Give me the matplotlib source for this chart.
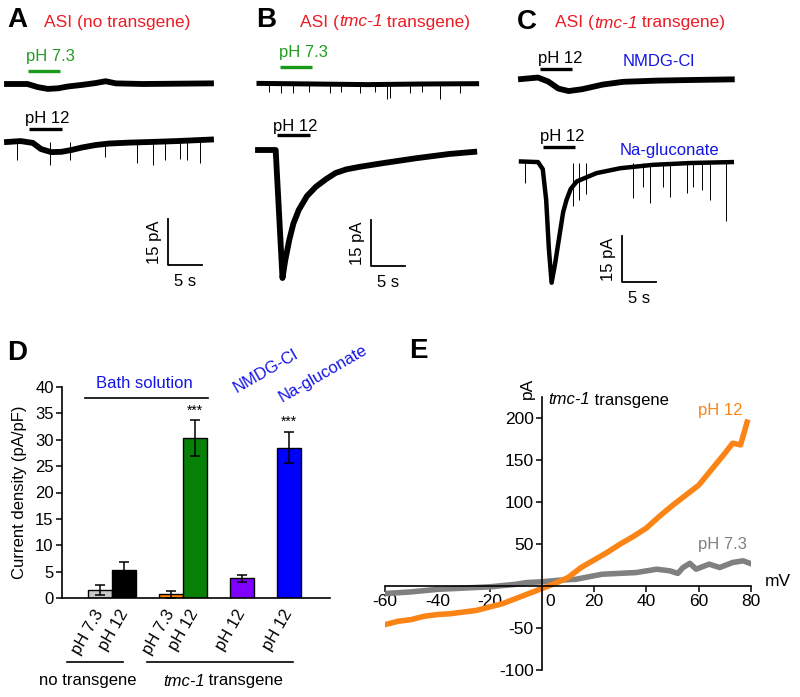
import matplotlib
matplotlib.use("Agg")
import matplotlib.pyplot as plt
from matplotlib.offsetbox import TextArea, HPacker, AnnotationBbox

plt.rcParams["font.family"] = ["Liberation Sans", "DejaVu Sans"]
plt.rcParams["axes.unicode_minus"] = False

W, H = 800, 697
PX_PER_S = 6.8     # trace time scale (5 s = 34 px)
PX_PER_PA = 3.07   # trace current scale (15 pA = 46 px)

RED = "#ec1c24"
GREEN_TXT = "#1f9e1f"
BLUE_TXT = "#1414e6"
ORANGE = "#fb8416"
GREY = "#808080"

# ---------------- traces (time s, current pA rel. baseline) ----------------
A73_T = [0, 3, 4.5, 6, 7.5, 9, 11, 13, 14.5, 16, 20, 25, 30]
A73_I = [0, 0, -1.0, -1.6, -1.4, -0.8, -0.3, 0.3, 0.9, 0.2, 0, 0.1, 0.2]

A12_T = [0, 2, 3.8, 5, 6.5, 8, 9.5, 11, 13, 15, 18, 21, 25, 28, 30]
A12_I = [0, 0.3, -0.3, -2.3, -3.3, -3.2, -2.6, -1.8, -1.0, -0.5, -0.2, 0, 0.3, 0.6, 0.8]
A12_SPIKE_T = [1.5, 6.3, 9.3, 14.4, 19.1, 21.5, 23.2, 25.4, 26.5, 28.4]
A12_SPIKE_I = [-6, -7.5, -6, -5, -7, -7.5, -6, -5.5, -6, -7]

B73_T = [0, 8, 16, 24, 32]
B73_I = [0.2, 0, -0.2, 0, 0.1]
B73_SPIKE_T = [1.5, 3.2, 5.0, 7.4, 10.4, 12.0, 14.9, 17.0, 18.8, 19.3, 22.2, 24.0, 26.6, 29.5]
B73_SPIKE_I = [-2.5, -2.8, -3, -2.5, -3, -2.5, -3, -2.7, -5, -4.5, -3, -2.5, -5, -2.8]

B12_T = [0, 2.6, 3.6, 4.0, 4.6, 5.2, 6.0, 7.2, 8.5, 10, 11.4, 13, 14.9, 18.3, 23.2, 28.1, 31.8]
B12_I = [0, 0, -41.7, -36, -29.3, -24, -19.5, -15, -12, -9.5, -7.5, -6.3, -5.5, -4.3, -2.7, -1.3, -0.6]

C1_T = [0, 2.5, 4, 5.5, 7, 9, 12, 15, 20, 25, 31]
C1_I = [0.3, 0.8, -0.5, -2.8, -3.6, -3.0, -1.5, -0.6, -0.2, 0, 0.2]

C2_T = [0, 2.5, 3.2, 3.7, 4.1, 4.5, 5.0, 5.7, 6.2, 6.7, 7.3, 8.2, 11.1, 14.6, 19.4, 25, 31]
C2_I = [0.5, 0.3, -2, -12, -28, -39, -33, -23, -16, -12, -8.5, -6, -3.3, -1.7, -0.6, 0, 0.3]
C2_SPIKE_T = [0.6, 7.7, 8.5, 9.5, 16.5, 18.0, 19.0, 20.9, 21.9, 24.4, 25.3, 26.6, 27.8, 30.2]
C2_SPIKE_I = [-6.6, -14, -12, -10, -11.5, -7.7, -13, -7.7, -11, -9.9, -7.7, -8.8, -12, -19]

# stimulus on/off times (s)
STIM_A73 = [3.1, 7.8]
STIM_A12 = [3.2, 8.1]
STIM_B73 = [3.1, 7.8]
STIM_B12 = [2.8, 7.6]
STIM_C1 = [2.8, 7.5]
STIM_C2 = [3.2, 7.9]

SCALE_PA = 15
SCALE_S = 5

# ---------------- panel D ----------------
D_TICKS = ["pH 7.3", "pH 12", "pH 7.3", "pH 12", "pH 12", "pH 12"]
D_MEAN = [1.5, 5.4, 0.7, 30.3, 3.7, 28.5]
D_ERR = [1.0, 1.4, 0.65, 3.35, 0.65, 3.0]
D_COLORS = ["#c8c8c8", "black", "#ff8000", "#078007", "#8000ff", "#0000ff"]
D_SIG = ["", "", "", "***", "", "***"]
D_X = [0, 1, 2.94, 3.94, 5.9, 7.85]

# ---------------- panel E (I-V) ----------------
IV12_MV = [-60, -55, -50, -45, -40, -35, -30, -25, -20, -15, -10, -5, 0, 5, 10, 15,
           20, 25, 30, 35, 40, 45, 50, 55, 60, 65, 70, 73, 76, 77.5, 78.5]
IV12_PA = [-46, -42, -40, -36, -34, -33, -31, -29, -25, -21, -15, -9, -3, 3, 10, 22,
           31, 40, 50, 59, 69, 83, 96, 108, 120, 139, 158, 170, 168, 184, 195]
IV73_MV = [-60, -50, -40, -30, -20, -10, -6, 0, 7, 13, 23, 36, 44, 49, 52, 54,
           56.6, 59, 64, 68, 73, 77, 79.6]
IV73_PA = [-9, -7, -4, -2.5, -1, 2, 4, 5, 7, 8, 14, 16, 20, 18, 15, 22,
           27, 20, 26, 22, 28, 30, 27]


def px_axes(fig, left, top, right, bottom):
    return fig.add_axes([left / W, 1 - bottom / H, (right - left) / W, (bottom - top) / H])


def trace_axes(fig, x0, y0, box):
    """Axes in s / pA whose origin sits at pixel (x0, y0)."""
    left, top, right, bottom = box
    ax = px_axes(fig, left, top, right, bottom)
    ax.set_xlim((left - x0) / PX_PER_S, (right - x0) / PX_PER_S)
    ax.set_ylim((y0 - bottom) / PX_PER_PA, (y0 - top) / PX_PER_PA)
    ax.set_axis_off()
    ax.patch.set_alpha(0)
    return ax


def draw_trace(ax, t, i, spike_t=None, spike_i=None, lw=4.2):
    ax.plot(t, i, color="black", lw=lw, solid_joinstyle="round")
    if spike_t:
        ax.vlines(spike_t, 0, spike_i, color="black", lw=0.7)


def stim_bar(ax, on_off, y_px, y0, color):
    level = (y0 - y_px) / PX_PER_PA
    ax.plot(on_off, [level, level], color=color, lw=2.4, solid_capstyle="butt")


def scale_bar(fig, cx, cy, box):
    ax = trace_axes(fig, cx, cy, box)
    ax.plot([0, 0, SCALE_S], [SCALE_PA, 0, 0], color="black", lw=1.3)
    ax.text(-0.9, SCALE_PA / 2, f"{SCALE_PA} pA", rotation=90, ha="right", va="center", fontsize=12)
    ax.text(SCALE_S / 2, -3, f"{SCALE_S} s", ha="center", va="top", fontsize=12)


def rich_text(ax, x, y, parts, fontsize=12, color="black", align=(0, 0.5)):
    boxes = [TextArea(s, textprops=dict(color=color, fontsize=fontsize, style=st))
             for s, st in parts]
    pack = HPacker(children=boxes, align="baseline", pad=0, sep=0)
    ab = AnnotationBbox(pack, (x, y), xycoords="data", box_alignment=align,
                        frameon=False, pad=0)
    ax.add_artist(ab)


def tmc_parts(before, after):
    return [(before, "normal"), ("tmc-1", "italic"), (after, "normal")]


def main():
    fig = plt.figure(figsize=(W / 100, H / 100), dpi=100)

    # ---- panel A ----
    box_a = (0, 30, 240, 300)
    ax = trace_axes(fig, 7, 84, box_a)
    draw_trace(ax, A73_T, A73_I)
    stim_bar(ax, STIM_A73, 71, 84, "#1a9a1a")
    ax = trace_axes(fig, 7, 142, box_a)
    draw_trace(ax, A12_T, A12_I, A12_SPIKE_T, A12_SPIKE_I)
    stim_bar(ax, STIM_A12, 129, 142, "black")
    scale_bar(fig, 168, 265, box_a)

    # ---- panel B ----
    box_b = (245, 30, 510, 300)
    ax = trace_axes(fig, 259, 84, box_b)
    draw_trace(ax, B73_T, B73_I, B73_SPIKE_T, B73_SPIKE_I, lw=3.6)
    stim_bar(ax, STIM_B73, 67, 84, "#1a9a1a")
    ax = trace_axes(fig, 258, 150, box_b)
    draw_trace(ax, B12_T, B12_I, lw=4.2)
    stim_bar(ax, STIM_B12, 135, 150, "black")
    scale_bar(fig, 371, 266, box_b)

    # ---- panel C ----
    box_c = (515, 30, 760, 310)
    ax = trace_axes(fig, 521, 80, box_c)
    draw_trace(ax, C1_T, C1_I)
    stim_bar(ax, STIM_C1, 69, 80, "black")
    ax = trace_axes(fig, 521, 163, box_c)
    draw_trace(ax, C2_T, C2_I, C2_SPIKE_T, C2_SPIKE_I, lw=3.2)
    stim_bar(ax, STIM_C2, 147, 163, "black")
    scale_bar(fig, 622, 282, box_c)

    # ---- panel D ----
    axd = px_axes(fig, 62, 387, 330, 598)
    axd.bar(D_X, D_MEAN, width=1.0, color=D_COLORS, edgecolor="black", lw=1.0, zorder=2)
    axd.errorbar(D_X, D_MEAN, yerr=D_ERR, fmt="none", ecolor="black",
                 elinewidth=1.1, capsize=3.5, capthick=1.1, zorder=3)
    for x, m, e, s in zip(D_X, D_MEAN, D_ERR, D_SIG):
        if s:
            axd.annotate(s, (x, m + e), xytext=(0, 2), textcoords="offset points",
                         ha="center", va="bottom", fontsize=10)
    axd.set_xlim(-1.6, 9.56)
    axd.set_ylim(0, 40)
    axd.set_yticks(range(0, 41, 5))
    axd.set_xticks(D_X, D_TICKS, rotation=60, ha="right", va="center",
                   rotation_mode="anchor")
    axd.tick_params(axis="x", length=0, pad=9, labelsize=12)
    axd.tick_params(axis="y", length=4, width=1.1, pad=2, labelsize=12)
    for side in ("top", "right"):
        axd.spines[side].set_visible(False)
    for side in ("left", "bottom"):
        axd.spines[side].set_linewidth(1.2)
    axd.set_ylabel("Current density (pA/pF)", fontsize=12, labelpad=6)

    # ---- panel E ----
    axe = px_axes(fig, 385, 397, 751, 670)
    axe.plot(IV73_MV, IV73_PA, color=GREY, lw=4, solid_joinstyle="round")
    axe.plot(IV12_MV, IV12_PA, color=ORANGE, lw=4, solid_joinstyle="round")
    axe.set_xlim(-60, 80)
    axe.set_ylim(-100, 225)
    for side in ("top", "right"):
        axe.spines[side].set_visible(False)
    axe.spines["left"].set_position(("data", 0))
    axe.spines["bottom"].set_position(("data", 0))
    for side in ("left", "bottom"):
        axe.spines[side].set_linewidth(1.2)
    axe.set_xticks([-60, -40, -20, 20, 40, 60, 80])
    axe.set_yticks([-100, -50, 50, 100, 150, 200])
    axe.tick_params(direction="out", length=4, width=1.1, pad=2, labelsize=12.5)
    axe.patch.set_alpha(0)

    # ---- overlay for free text and bracket lines (pixel coords) ----
    ov = fig.add_axes([0, 0, 1, 1])
    ov.set_xlim(0, W)
    ov.set_ylim(H, 0)
    ov.set_axis_off()
    ov.patch.set_alpha(0)

    for letter, x, y in [("A", 7, 20), ("B", 256, 20), ("C", 517, 22), ("D", 7, 353), ("E", 409, 351)]:
        ov.text(x, y, letter, fontsize=20, fontweight="bold", ha="left", va="center")

    ov.text(44, 22, "ASI (no transgene)", color=RED, fontsize=12.5, va="center")
    rich_text(ov, 300, 22, tmc_parts("ASI (", " transgene)"), fontsize=12.5, color=RED)
    rich_text(ov, 555, 23, tmc_parts("ASI (", " transgene)"), fontsize=12.5, color=RED)

    for txt, x, y, c in [("pH 7.3", 26, 56, GREEN_TXT), ("pH 12", 25, 118, "black"),
                         ("pH 7.3", 279, 53, GREEN_TXT), ("pH 12", 273, 127, "black"),
                         ("pH 12", 538, 58, "black"), ("pH 12", 540, 137, "black")]:
        ov.text(x, y, txt, color=c, fontsize=12, va="center")
    ov.text(623, 62, "NMDG-Cl", color=BLUE_TXT, fontsize=12, va="center")
    ov.text(620, 150, "Na-gluconate", color=BLUE_TXT, fontsize=12, va="center")

    # panel D annotations
    ov.text(144, 383, "Bath solution", color=BLUE_TXT, fontsize=12, ha="center", va="center")
    ov.plot([85, 208], [398, 398], color="black", lw=1.2)
    ov.text(237, 393, "NMDG-Cl", color=BLUE_TXT, fontsize=12, rotation=30,
            ha="left", va="baseline", rotation_mode="anchor")
    ov.text(282, 402, "Na-gluconate", color=BLUE_TXT, fontsize=12, rotation=30,
            ha="left", va="baseline", rotation_mode="anchor")
    ov.plot([67, 123], [662, 662], color="black", lw=1.2)
    ov.plot([147, 293], [662, 662], color="black", lw=1.2)
    ov.text(88, 681, "no transgene", fontsize=12, ha="center", va="center")
    rich_text(ov, 223, 681, tmc_parts("", " transgene"), align=(0.5, 0.5))

    # panel E annotations
    rich_text(ov, 548, 400, tmc_parts("", " transgene"))
    ov.text(698, 411, "pH 12", color=ORANGE, fontsize=12, va="center")
    ov.text(698, 545, "pH 7.3", color=GREY, fontsize=12, va="center")
    ov.text(527, 388, "pA", fontsize=12.5, rotation=90, ha="center", va="center")
    ov.text(778, 581, "mV", fontsize=12.5, ha="center", va="center")
    ov.text(550, 601, "0", fontsize=12.5, ha="center", va="center")

    fig.savefig("out.png", dpi=100)


if __name__ == "__main__":
    main()
